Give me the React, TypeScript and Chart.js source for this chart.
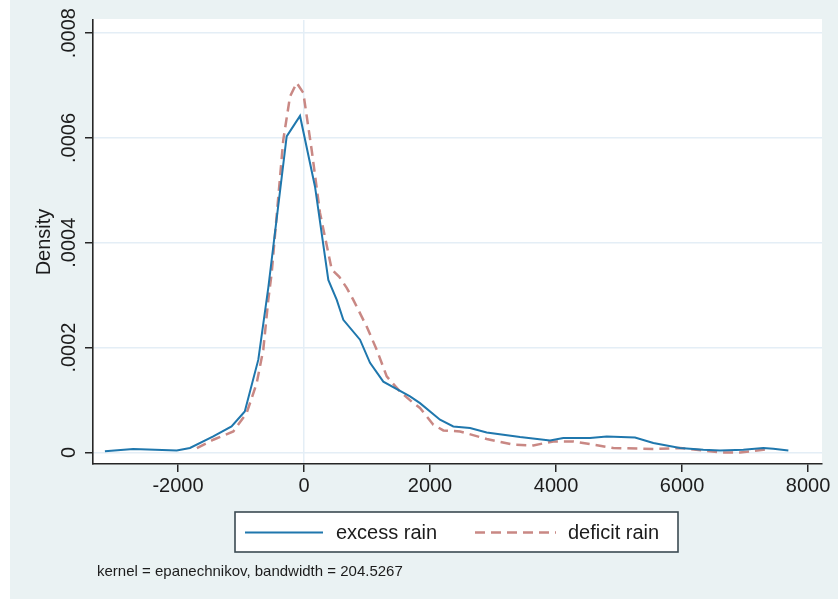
import { useEffect, useRef } from "react";
import { Chart, registerables } from "chart.js";

Chart.register(...registerables);

// ---- data ----
const excessLabel = "excess rain";
const deficitLabel = "deficit rain";

const excessX = [-3160, -2710, -2020, -1810, -1440, -1150, -940, -725, -567, -275, -63, 175, 386, 520, 624, 889, 1048, 1259, 1683, 1841, 2159, 2370, 2635, 2900, 3429, 3905, 4116, 4540, 4805, 5254, 5545, 5968, 6338, 6603, 6973, 7291, 7450, 7688];
const excessY = [0.000002, 0.0000065, 0.0000038, 0.0000084, 0.0000305, 0.0000496, 0.0000782, 0.000177, 0.000314, 0.000603, 0.000642, 0.000507, 0.000329, 0.000291, 0.000253, 0.000215, 0.000171, 0.000135, 0.000107, 0.000094, 0.0000624, 0.0000496, 0.0000465, 0.0000382, 0.0000294, 0.0000229, 0.0000275, 0.0000275, 0.0000305, 0.0000286, 0.0000179, 0.0000084, 0.0000051, 0.0000038, 0.0000051, 0.0000084, 0.0000071, 0.0000038];

const deficitX = [-1700, -1440, -1122, -910, -751, -646, -567, -513, -329, -222, -116, -11, 122, 254, 440, 560, 678, 783, 995, 1154, 1313, 1524, 1735, 1841, 2053, 2212, 2476, 2900, 3323, 3640, 3957, 4275, 4593, 4910, 5545, 5968, 6338, 6603, 6921, 7291, 7397];
const deficitY = [0.000008, 0.0000242, 0.00004, 0.0000752, 0.000132, 0.000196, 0.000291, 0.000342, 0.000596, 0.000679, 0.000705, 0.000686, 0.000577, 0.000457, 0.000349, 0.000335, 0.000314, 0.000291, 0.00024, 0.000196, 0.000145, 0.000116, 0.0000942, 0.0000847, 0.0000528, 0.000042, 0.00004, 0.0000256, 0.0000147, 0.0000134, 0.000021, 0.000021, 0.0000147, 0.0000084, 0.0000065, 0.0000084, 0.0000038, 0.0, 0.0, 0.0000051, 0.000007];

const xTickValues = [-2000, 0, 2000, 4000, 6000, 8000];
const yTickValues = [0, 0.0002, 0.0004, 0.0006, 0.0008];
const yTickLabels = ["0", ".0002", ".0004", ".0006", ".0008"];
const yTitle = "Density";
const noteText = "kernel = epanechnikov, bandwidth = 204.5267";

// ---- styles ----
const FONT = "'Liberation Sans', Arial, Helvetica, sans-serif";
const BG = "#eaf2f3";
const GRID = "#e4eef6";
const AXIS = "#262626";
const TEXT = "#1c1c1c";
const BLUE = "#1f77ad";
const ROSE = "#c98884";

const W = 838;
const H = 599;

export default function App() {
  const ref = useRef<HTMLCanvasElement | null>(null);

  useEffect(() => {
    const canvas = ref.current;
    if (!canvas) return;

    const decor = {
      id: "decor",
      beforeDraw(chart: any) {
        const { ctx, chartArea } = chart;
        ctx.save();
        ctx.fillStyle = "#ffffff";
        ctx.fillRect(0, 0, W, H);
        ctx.fillStyle = BG;
        ctx.fillRect(10, 0, W - 10, H);
        ctx.fillStyle = "#ffffff";
        ctx.fillRect(chartArea.left, chartArea.top - 1, chartArea.right - chartArea.left, chartArea.bottom - chartArea.top + 1);
        ctx.restore();
      },
      afterDraw(chart: any) {
        const { ctx } = chart;
        const ys = chart.scales.y;
        ctx.save();
        ctx.fillStyle = TEXT;
        // y tick labels, rotated
        ctx.font = `20px ${FONT}`;
        ctx.textAlign = "center";
        ctx.textBaseline = "alphabetic";
        yTickValues.forEach((v, i) => {
          const py = ys.getPixelForValue(v);
          ctx.save();
          ctx.translate(74.5, py);
          ctx.rotate(-Math.PI / 2);
          ctx.fillText(yTickLabels[i], 0, 0);
          ctx.restore();
        });
        // y title
        ctx.save();
        ctx.translate(49.5, (chart.chartArea.top + chart.chartArea.bottom) / 2);
        ctx.rotate(-Math.PI / 2);
        ctx.font = `20px ${FONT}`;
        ctx.fillText(yTitle, 0, 0);
        ctx.restore();

        // legend box
        const lx = 235, ly = 512, lw = 443, lh = 40;
        ctx.fillStyle = "#ffffff";
        ctx.fillRect(lx, ly, lw, lh);
        ctx.strokeStyle = "#3b4a52";
        ctx.lineWidth = 1.6;
        ctx.strokeRect(lx, ly, lw, lh);
        const cy = 532.5;
        ctx.lineWidth = 2;
        ctx.strokeStyle = BLUE;
        ctx.setLineDash([]);
        ctx.beginPath();
        ctx.moveTo(245, cy);
        ctx.lineTo(323, cy);
        ctx.stroke();
        ctx.strokeStyle = ROSE;
        ctx.lineWidth = 2.5;
        ctx.setLineDash([10, 6]);
        ctx.beginPath();
        ctx.moveTo(475, cy);
        ctx.lineTo(556, cy);
        ctx.stroke();
        ctx.setLineDash([]);
        ctx.fillStyle = TEXT;
        ctx.textAlign = "left";
        ctx.font = `20px ${FONT}`;
        ctx.fillText(excessLabel, 336, 538.5);
        ctx.fillText(deficitLabel, 568, 538.5);

        // note
        ctx.font = `15px ${FONT}`;
        ctx.fillText(noteText, 97, 576);
        ctx.restore();
      },
    };

    const chart = new Chart(canvas, {
      type: "scatter",
      data: {
        datasets: [
          {
            label: excessLabel,
            data: excessX.map((x, i) => ({ x, y: excessY[i] })),
            showLine: true,
            borderColor: BLUE,
            borderWidth: 2,
            pointRadius: 0,
            tension: 0,
          },
          {
            label: deficitLabel,
            data: deficitX.map((x, i) => ({ x, y: deficitY[i] })),
            showLine: true,
            borderColor: ROSE,
            borderWidth: 2.5,
            borderDash: [10, 6],
            pointRadius: 0,
            tension: 0,
          },
        ],
      },
      options: {
        responsive: false,
        animation: false,
        devicePixelRatio: 1,
        layout: { padding: { top: 20, right: 16, left: 0, bottom: 0 } },
        plugins: {
          legend: { display: false },
          tooltip: { enabled: false },
        },
        scales: {
          x: {
            type: "linear",
            min: -3349,
            max: 8222,
            afterBuildTicks: (s: any) => {
              s.ticks = xTickValues.map((v) => ({ value: v }));
            },
            afterFit: (s: any) => {
              s.height = H - 464;
            },
            ticks: {
              color: TEXT,
              font: { family: FONT, size: 20 },
              padding: 2,
              maxRotation: 0,
              callback: (v: any) => String(v),
            },
            grid: {
              color: (c: any) => (c.tick && c.tick.value === 0 ? GRID : "rgba(0,0,0,0)"),
              lineWidth: 1.5,
              tickColor: AXIS,
              tickLength: 8,
              tickWidth: 1.5,
            },
            border: { display: true, color: AXIS, width: 1.6 },
          },
          y: {
            type: "linear",
            min: -0.0000221,
            max: 0.000825,
            afterBuildTicks: (s: any) => {
              s.ticks = yTickValues.map((v) => ({ value: v }));
            },
            afterFit: (s: any) => {
              s.width = 93;
            },
            ticks: { display: false },
            grid: {
              color: GRID,
              lineWidth: 1.5,
              tickColor: AXIS,
              tickLength: 8,
              tickWidth: 1.5,
            },
            border: { display: true, color: AXIS, width: 1.6 },
          },
        },
      },
      plugins: [decor],
    } as any);

    return () => chart.destroy();
  }, []);

  return (
    <div style={{ position: "fixed", left: 0, top: 0, width: W, height: H }}>
      <canvas ref={ref} width={W} height={H} style={{ width: W, height: H, display: "block" }} />
    </div>
  );
}
